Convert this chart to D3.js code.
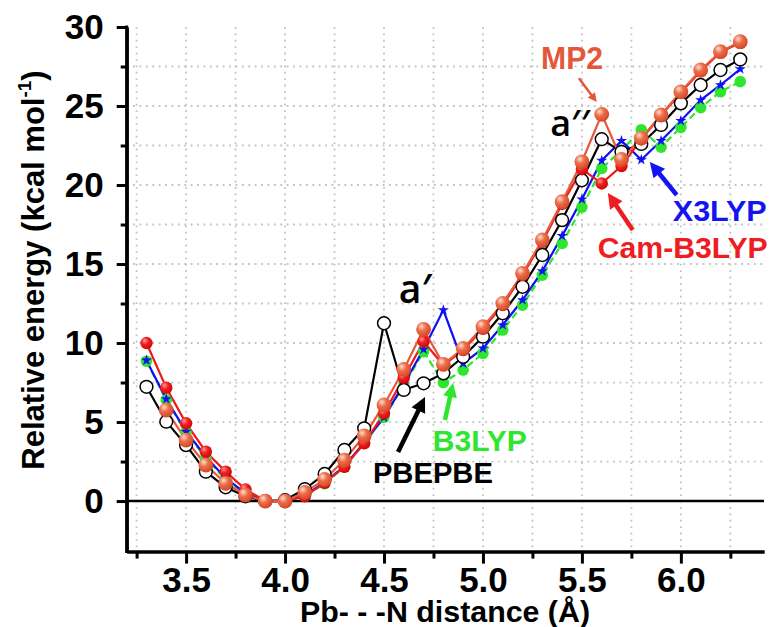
<!DOCTYPE html>
<html><head><meta charset="utf-8">
<script src="https://cdn.jsdelivr.net/npm/d3@7"></script>
<style>
html,body{margin:0;padding:0;background:#fff;}
svg{display:block;}
</style></head>
<body>
<svg id="chart" width="771" height="627"></svg>
<script>
// ---------------- data ----------------
const distances = [3.3,3.4,3.5,3.6,3.7,3.8,3.9,4.0,4.1,4.2,4.3,4.4,4.5,4.6,4.7,4.8,4.9,5.0,5.1,5.2,5.3,5.4,5.5,5.6,5.7,5.8,5.9,6.0,6.1,6.2,6.3];
const mp2      = [null,5.76,3.86,2.28,1.12,0.38,0,0,0.55,1.37,2.59,4.13,6.08,8.33,10.87,8.65,9.66,11.03,12.51,14.41,16.52,18.94,21.47,24.47,21.62,22.96,24.43,25.9,27.28,28.44,29.07];
const camB3lyp = [10.0,7.17,4.92,3.12,1.86,0.74,0,0,0.3,1.15,2.17,3.65,5.55,7.8,10.1,8.6,9.55,10.9,12.4,14.3,16.4,18.8,21.0,20.1,21.2,22.9,24.4,25.85,27.2,28.4,29.0];
const x3lyp    = [8.9,6.45,4.4,2.8,1.45,0.5,0,0,0.35,1.2,2.2,3.7,5.3,7.4,9.6,12.09,8.71,9.66,11.14,12.72,14.55,16.78,19.1,21.55,22.8,21.6,22.8,24.07,25.38,26.33,27.34];
const b3lyp    = [8.85,6.39,4.35,2.7,1.35,0.45,0,0,0.3,1.1,2.15,3.65,5.3,7.3,9.45,7.5,8.29,9.35,10.82,12.4,14.3,16.3,18.6,21.05,22.2,23.5,22.4,23.65,24.9,25.9,26.54];
const pbepbe   = [7.23,5.02,3.54,1.86,0.87,0.3,0,0.05,0.76,1.71,3.23,4.6,11.25,7.03,7.45,8.08,9.13,10.4,11.88,13.56,15.57,17.78,20.3,22.9,22.1,22.6,23.8,25.17,26.33,27.28,27.95];

const xMajorTicks = [3.5,4.0,4.5,5.0,5.5,6.0];
const xMinorTicks = [3.25,3.75,4.25,4.75,5.25,5.75,6.25];
const yMajorTicks = [0,5,10,15,20,25,30];
const yMinorTicks = [2.5,7.5,12.5,17.5,22.5,27.5];
const xTickLabels = ["3.5","4.0","4.5","5.0","5.5","6.0"];
const yTickLabels = ["0","5","10","15","20","25","30"];
const vGrid = [3.25,3.5,3.75,4.0,4.25,4.5,4.75,5.0,5.25,5.5,5.75,6.0,6.25];
const hGrid = [2.5,5,7.5,10,12.5,15,17.5,20,22.5,25,27.5];

// annotations in data coordinates
const labels = [
  {text:"MP2", x:5.45, y:27.35, color:"#E4573B", anchor:"middle", size:31, len:62},
  {text:"PBEPBE", x:4.444, y:1.14, color:"#000", anchor:"start", size:30, len:120},
  {text:"B3LYP", x:4.747, y:3.16, color:"#2EE62E", anchor:"start", size:29, len:94},
  {text:"X3LYP", x:5.959, y:17.72, color:"#1414F0", anchor:"start", size:29, len:94},
  {text:"Cam-B3LYP", x:5.58, y:15.38, color:"#EE1D23", anchor:"start", size:29, len:170}
];
const primes = [
  {text:"a\u2032", x:4.575, y:12.55, size:39},
  {text:"a\u2032\u2032", x:5.34, y:23.1, size:36}
];
const arrows = [
  {x1:5.485, y1:26.75, x2:5.575, y2:25.25, color:"#E4573B", w:2.5, head:9},
  {x1:4.571, y1:3.1, x2:4.707, y2:6.58, color:"#000", w:4.5, head:15},
  {x1:4.808, y1:5.13, x2:4.849, y2:7.47, color:"#2EE62E", w:4.5, head:14},
  {x1:5.979, y1:19.37, x2:5.843, y2:21.46, color:"#1414F0", w:4.5, head:15},
  {x1:5.757, y1:17.15, x2:5.631, y2:19.49, color:"#EE1D23", w:4.5, head:15}
];

// ---------------- layout ----------------
const svg = d3.select("#chart");
const x = d3.scaleLinear().domain([3.2, 6.42]).range([126.7, 764]);
const y = d3.scaleLinear().domain([-3.2, 30]).range([551.6, 27]);

const defs = svg.append("defs");
function ballGrad(id, c0, c1, c2){
  const g = defs.append("radialGradient").attr("id", id)
    .attr("cx","38%").attr("cy","35%").attr("r","65%").attr("fx","35%").attr("fy","30%");
  g.append("stop").attr("offset","0%").attr("stop-color",c0);
  g.append("stop").attr("offset","45%").attr("stop-color",c1);
  g.append("stop").attr("offset","100%").attr("stop-color",c2);
}
ballGrad("gMP2", "#FDE0D2", "#EE6E4A", "#D2492A");
ballGrad("gRed", "#FF9A9A", "#F02020", "#D00808");

// grid
const grid = svg.append("g").attr("stroke","#c2c2c2").attr("stroke-width",1.8).attr("stroke-dasharray","1.8,4.6");
grid.selectAll(".v").data(vGrid).join("line").attr("class","v")
  .attr("x1",d=>x(d)).attr("x2",d=>x(d)).attr("y1",y(30)).attr("y2",y(-3.2));
grid.selectAll(".h").data(hGrid).join("line").attr("class","h")
  .attr("x1",x(3.2)).attr("x2",x(6.42)).attr("y1",d=>y(d)).attr("y2",d=>y(d));

// zero line
svg.append("line").attr("x1",x(3.2)).attr("x2",x(6.42)).attr("y1",y(0)).attr("y2",y(0))
  .attr("stroke","#000").attr("stroke-width",2.5);

// axes
const fontFam = "'Liberation Sans', Arial, sans-serif";
const yAxis = svg.append("g").attr("transform",`translate(${x(3.2)},0)`)
  .call(d3.axisLeft(y).tickValues(yMajorTicks).tickSize(10).tickSizeOuter(0).tickPadding(13)
    .tickFormat((d,i)=>yTickLabels[i]));
const yMinor = svg.append("g").attr("transform",`translate(${x(3.2)},0)`)
  .call(d3.axisLeft(y).tickValues(yMinorTicks).tickSize(6).tickSizeOuter(0).tickFormat(""));
const xAxis = svg.append("g").attr("transform",`translate(0,${y(-3.2)})`)
  .call(d3.axisBottom(x).tickValues(xMajorTicks).tickSize(12).tickSizeOuter(0).tickPadding(4)
    .tickFormat((d,i)=>xTickLabels[i]));
const xMinor = svg.append("g").attr("transform",`translate(0,${y(-3.2)})`)
  .call(d3.axisBottom(x).tickValues(xMinorTicks).tickSize(7).tickSizeOuter(0).tickFormat(""));
[yAxis,yMinor,xAxis,xMinor].forEach(g=>{
  g.select(".domain").attr("stroke","#000").attr("stroke-width",3);
  g.selectAll(".tick line").attr("stroke","#000").attr("stroke-width",3);
  g.selectAll("text").attr("font-family",fontFam).attr("font-weight","bold")
    .attr("font-size",35).attr("fill","#000");
});
svg.append("line").attr("x1",x(3.2)).attr("x2",x(3.2)).attr("y1",y(30)-1.5).attr("y2",y(-3.2)+1.5)
  .attr("stroke","#000").attr("stroke-width",3);

// axis titles
svg.append("text").attr("x",445).attr("y",622).attr("text-anchor","middle")
  .attr("font-family",fontFam).attr("font-weight","bold").attr("font-size",29)
  .attr("textLength",290).attr("lengthAdjust","spacingAndGlyphs")
  .text("Pb- - -N distance (\u00C5)");
const yt = svg.append("text").attr("transform","translate(44,270) rotate(-90)")
  .attr("text-anchor","middle").attr("font-family",fontFam).attr("font-weight","bold").attr("font-size",31);
yt.append("tspan").text("Relative energy (kcal mol");
yt.append("tspan").attr("font-size",19).attr("dy",-13).text("-1");
yt.append("tspan").attr("dy",13).text(")");

// ---------------- series ----------------
const series = [
  {name:"B3LYP", vals:b3lyp, color:"#2EE62E", dash:"7,4", marker:"green"},
  {name:"X3LYP", vals:x3lyp, color:"#1010F5", dash:null, marker:"star"},
  {name:"PBEPBE", vals:pbepbe, color:"#000", dash:null, marker:"open"},
  {name:"Cam-B3LYP", vals:camB3lyp, color:"#F01818", dash:null, marker:"red"},
  {name:"MP2", vals:mp2, color:"#E6593A", dash:null, marker:"mp2"}
];
const line = d3.line().defined(d=>d[1]!=null).x(d=>x(d[0])).y(d=>y(d[1]));
series.forEach(s=>{
  s.pts = distances.map((d,i)=>[d,s.vals[i]]);
  svg.append("path").datum(s.pts).attr("d",line).attr("fill","none")
    .attr("stroke",s.color).attr("stroke-width",2.2).attr("stroke-dasharray",s.dash);
});
const markerOrder = ["green","star","open","red","mp2"];
markerOrder.forEach(m=>{
  const s = series.find(t=>t.marker===m);
  const pts = s.pts.filter(p=>p[1]!=null);
  const g = svg.append("g");
  if(m==="green"){
    g.selectAll("circle").data(pts).join("circle").attr("cx",d=>x(d[0])).attr("cy",d=>y(d[1]))
      .attr("r",5.8).attr("fill","#2EE62E");
  } else if(m==="star"){
    g.selectAll("path").data(pts).join("path").attr("transform",d=>`translate(${x(d[0])},${y(d[1])})`)
      .attr("d",d3.symbol(d3.symbolStar,38)).attr("fill","#1010F5");
  } else if(m==="red"){
    g.selectAll("circle").data(pts).join("circle").attr("cx",d=>x(d[0])).attr("cy",d=>y(d[1]))
      .attr("r",6.2).attr("fill","url(#gRed)");
  } else if(m==="mp2"){
    g.selectAll("circle").data(pts).join("circle").attr("cx",d=>x(d[0])).attr("cy",d=>y(d[1]))
      .attr("r",7.4).attr("fill","url(#gMP2)");
  } else {
    g.selectAll("circle").data(pts).join("circle").attr("cx",d=>x(d[0])).attr("cy",d=>y(d[1]))
      .attr("r",6.4).attr("fill","#fff").attr("stroke","#000").attr("stroke-width",1.5);
  }
});

// ---------------- annotations ----------------
arrows.forEach(a=>{
  const X1=x(a.x1), Y1=y(a.y1), X2=x(a.x2), Y2=y(a.y2);
  const dx=X2-X1, dy=Y2-Y1, L=Math.hypot(dx,dy), ux=dx/L, uy=dy/L;
  const bx=X2-ux*a.head, by=Y2-uy*a.head, hw=a.head*0.5;
  svg.append("line").attr("x1",X1).attr("y1",Y1).attr("x2",bx+ux*1).attr("y2",by+uy*1)
    .attr("stroke",a.color).attr("stroke-width",a.w);
  svg.append("polygon").attr("fill",a.color)
    .attr("points",`${X2},${Y2} ${bx-uy*hw},${by+ux*hw} ${bx+uy*hw},${by-ux*hw}`);
});
labels.forEach(l=>{
  svg.append("text").attr("x",x(l.x)).attr("y",y(l.y)).attr("text-anchor",l.anchor)
    .attr("font-family",fontFam).attr("font-weight","bold").attr("font-size",l.size)
    .attr("fill",l.color).attr("textLength",l.len).attr("lengthAdjust","spacingAndGlyphs")
    .text(l.text);
});
primes.forEach(p=>{
  svg.append("text").attr("x",x(p.x)).attr("y",y(p.y))
    .attr("font-family","'Open Sans', sans-serif").attr("font-weight","600").attr("font-size",p.size)
    .attr("fill","#000").text(p.text);
});
</script>
</body></html>
